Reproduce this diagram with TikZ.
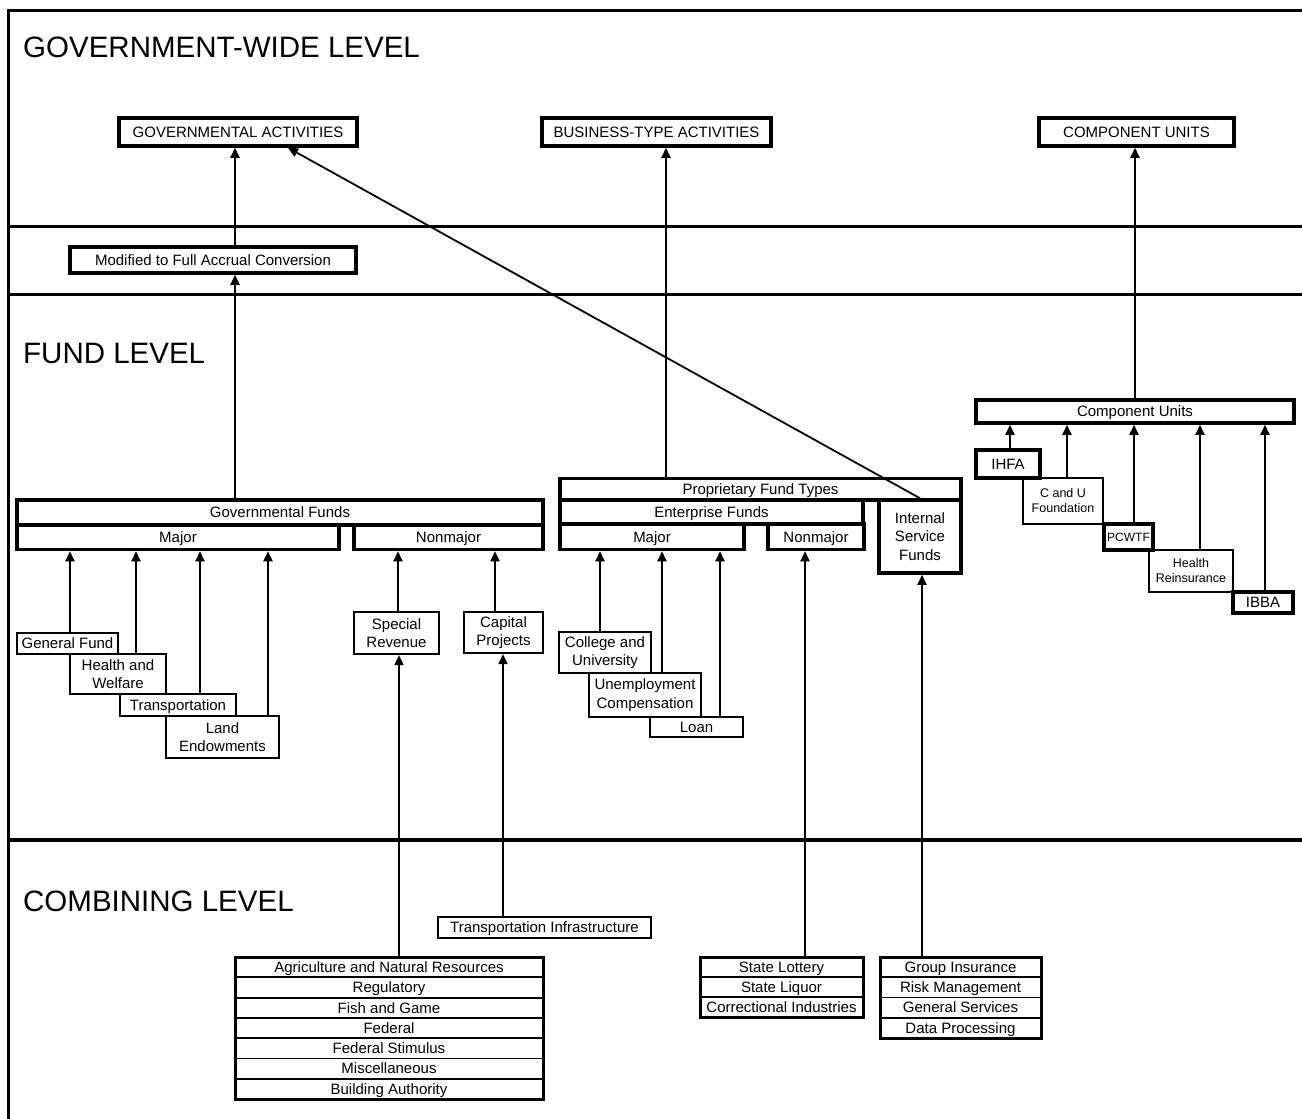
\documentclass[tikz,border=0pt]{standalone}
\usepackage{fontspec}
\setmainfont{Liberation Sans}
\usetikzlibrary{arrows.meta}
\begin{document}
\begin{tikzpicture}[x=1pt,y=-1pt,
  bx/.style n args={4}{minimum width={#3-#1}, minimum height={#4-#2}, at={({(#1+#3)/2},{(#2+#4)/2})}},
  base/.style={inner sep=0pt, font=\fontsize{15}{18.3}\selectfont, align=center},
  tb/.style={base, draw, line width=3.5pt},
  mb/.style={base, draw, line width=2.2pt},
  sl/.style={text height=10.7pt, text depth=0pt},
  rowbox/.style={base, sl, draw, line width=1.8pt, outer sep=0pt},
  sm/.style={font=\fontsize{12.5}{15}\selectfont},
  arr/.style={line width=1.8pt, -{Triangle[length=10pt,width=9pt]}},
  frameline/.style={line width=3.5pt},
  level/.style={anchor=base west, inner sep=0pt, font=\fontsize{29.5}{35}\selectfont},
]
\useasboundingbox (0,0) rectangle (1302,1119);

% frame and level separators
\draw[frameline] (1320,10.5) -- (8.7,10.5) -- (8.7,1140);
\draw[frameline] (8.7,226.5) -- (1320,226.5);
\draw[frameline] (8.7,294.5) -- (1320,294.5);
\draw[frameline] (8.7,840) -- (1320,840);

\node[level] (t1) at (23,57) {GOVERNMENT-WIDE LEVEL};
\node[level] (t2) at (23,363.5) {FUND LEVEL};
\node[level] (t3) at (23,911) {COMBINING LEVEL};

% government-wide
\node[tb, sl, bx={119}{118}{357}{146}] (ga) {GOVERNMENTAL ACTIVITIES};
\node[tb, sl, bx={542}{118}{771}{146}] (bta) {BUSINESS-TYPE ACTIVITIES};
\node[tb, sl, bx={1039}{118}{1234}{146}] (cut) {COMPONENT UNITS};
\node[tb, sl, bx={70}{247}{356}{273}] (mod) {Modified to Full Accrual Conversion};

% governmental funds
\node[tb, sl, bx={17}{500}{543}{525}] (gf) {Governmental Funds};
\node[tb, sl, bx={17}{525}{339}{549.5}] (gmaj) {Major};
\node[tb, sl, bx={354}{525}{543}{549.5}] (gnon) {Nonmajor};
\node[mb, sl, bx={17}{633}{118}{654}] (genf) {General Fund};
\node[mb, bx={70}{654}{166}{694}] (hw) {Health and\\Welfare};
\node[mb, sl, bx={120}{694}{236}{716}] (trans) {Transportation};
\node[mb, bx={166}{716}{279}{758}] (land) {Land\\Endowments};
\node[mb, bx={354}{612}{439}{654}] (sr) {Special\\Revenue};
\node[mb, bx={464}{612}{543}{653}] (cp) {Capital\\Projects};

% proprietary funds
\node[tb, sl, bx={560}{478.5}{961}{500}] (prop) {Proprietary Fund Types};
\node[tb, sl, bx={560}{500}{863}{524}] (ent) {Enterprise Funds};
\node[tb, bx={879}{500}{961}{573}] (isf) {Internal\\Service\\Funds};
\node[tb, sl, bx={560}{524}{744}{549.5}] (emaj) {Major};
\node[tb, sl, bx={768}{524}{864}{549.5}] (enon) {Nonmajor};
\node[mb, bx={559}{632}{651}{673}] (cu) {College and\\University};
\node[mb, bx={589}{673}{701}{717}] (uc) {Unemployment\\Compensation};
\node[mb, sl, bx={650}{717}{743}{737}] (loan) {Loan};

% component units
\node[tb, sl, bx={976}{400}{1294}{423}] (compu) {Component Units};
\node[tb, sl, bx={976}{450}{1040}{478}] (ihfa) {IHFA};
\node[mb, sm, bx={1023}{478}{1103}{524}] (cuf) {C and U\\Foundation};
\node[tb, sl, bx={1104}{524}{1153}{550}, font=\fontsize{12}{14}\selectfont, text height=8.6pt] (pcwtf) {PCWTF};
\node[mb, sm, bx={1149}{550}{1233}{592}] (hr) {Health\\Reinsurance};
\node[tb, sl, bx={1233}{592}{1293}{613}] (ibba) {IBBA};

% combining level
\node[mb, sl, bx={438}{917}{651}{938}] (ti) {Transportation Infrastructure};

\node[rowbox, bx={235}{957}{543}{977.3}] (agri1) {Agriculture and Natural Resources};
\node[rowbox, bx={235}{977.3}{543}{997.6}] (agri2) {Regulatory};
\node[rowbox, bx={235}{997.6}{543}{1017.9}] (agri3) {Fish and Game};
\node[rowbox, bx={235}{1017.9}{543}{1038.1}] (agri4) {Federal};
\node[rowbox, bx={235}{1038.1}{543}{1058.4}] (agri5) {Federal Stimulus};
\node[rowbox, bx={235}{1058.4}{543}{1078.7}] (agri6) {Miscellaneous};
\node[rowbox, bx={235}{1078.7}{543}{1099}] (agri7) {Building Authority};
\draw[line width=3pt] (agri1.north west) rectangle (agri7.south east);

\node[rowbox, bx={700}{957}{863}{977}] (lot1) {State Lottery};
\node[rowbox, bx={700}{977}{863}{997}] (lot2) {State Liquor};
\node[rowbox, bx={700}{997}{863}{1017}] (lot3) {Correctional Industries};
\draw[line width=3pt] (lot1.north west) rectangle (lot3.south east);

\node[rowbox, bx={880}{957}{1041}{977.25}] (gi1) {Group Insurance};
\node[rowbox, bx={880}{977.25}{1041}{997.5}] (gi2) {Risk Management};
\node[rowbox, bx={880}{997.5}{1041}{1017.75}] (gi3) {General Services};
\node[rowbox, bx={880}{1017.75}{1041}{1038}] (gi4) {Data Processing};
\draw[line width=3pt] (gi1.north west) rectangle (gi4.south east);

% connectors
\draw[arr] (235,0 |- mod.north) -- (235,0 |- ga.south);
\draw[arr] (235,0 |- gf.north) -- (235,0 |- mod.south);
\draw[arr] (666,0 |- prop.north) -- (666,0 |- bta.south);
\draw[arr] (1135,0 |- compu.north) -- (1135,0 |- cut.south);
\draw[arr] (isf.north) -- (288,0 |- ga.south);

\draw[arr] (70,0 |- genf.north) -- (70,0 |- gmaj.south);
\draw[arr] (136,0 |- hw.north) -- (136,0 |- gmaj.south);
\draw[arr] (200,0 |- trans.north) -- (200,0 |- gmaj.south);
\draw[arr] (268,0 |- land.north) -- (268,0 |- gmaj.south);
\draw[arr] (398,0 |- sr.north) -- (398,0 |- gnon.south);
\draw[arr] (495,0 |- cp.north) -- (495,0 |- gnon.south);
\draw[arr] (399,0 |- agri1.north) -- (399,0 |- sr.south);
\draw[arr] (503,0 |- ti.north) -- (503,0 |- cp.south);

\draw[arr] (600,0 |- cu.north) -- (600,0 |- emaj.south);
\draw[arr] (662,0 |- uc.north) -- (662,0 |- emaj.south);
\draw[arr] (720,0 |- loan.north) -- (720,0 |- emaj.south);
\draw[arr] (805,0 |- lot1.north) -- (805,0 |- enon.south);
\draw[arr] (922,0 |- gi1.north) -- (922,0 |- isf.south);

\draw[arr] (1010,0 |- ihfa.north) -- (1010,0 |- compu.south);
\draw[arr] (1067,0 |- cuf.north) -- (1067,0 |- compu.south);
\draw[arr] (1134,0 |- pcwtf.north) -- (1134,0 |- compu.south);
\draw[arr] (1200,0 |- hr.north) -- (1200,0 |- compu.south);
\draw[arr] (1265,0 |- ibba.north) -- (1265,0 |- compu.south);
\end{tikzpicture}
\end{document}
